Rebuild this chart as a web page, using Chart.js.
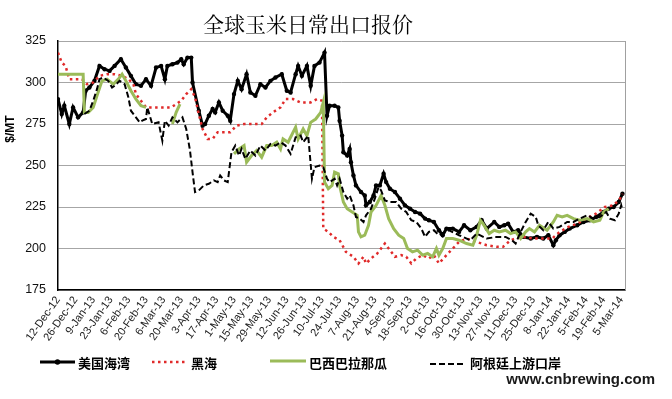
<!DOCTYPE html>
<html>
<head>
<meta charset="utf-8">
<script src="https://cdn.jsdelivr.net/npm/chart.js@4.4.1/dist/chart.umd.min.js"></script>
<style>
  html, body { margin: 0; padding: 0; background: #fff; }
  canvas { display: block; }
</style>
</head>
<body>
<canvas id="chart" width="672" height="399"></canvas>
<script>
// day numbers count from 12-Dec-12 (day 0)
const seriesNames = ['美国海湾', '黑海', '巴西巴拉那瓜', '阿根廷上游口岸'];

const xTickLabels = ['12-Dec-12', '26-Dec-12', '9-Jan-13', '23-Jan-13', '6-Feb-13', '20-Feb-13',
	'6-Mar-13', '20-Mar-13', '3-Apr-13', '17-Apr-13', '1-May-13', '15-May-13', '29-May-13',
	'12-Jun-13', '26-Jun-13', '10-Jul-13', '24-Jul-13', '7-Aug-13', '21-Aug-13', '4-Sep-13',
	'18-Sep-13', '2-Oct-13', '16-Oct-13', '30-Oct-13', '13-Nov-13', '27-Nov-13', '11-Dec-13',
	'25-Dec-13', '8-Jan-14', '22-Jan-14', '5-Feb-14', '19-Feb-14', '5-Mar-14'];

const usDays = [0, 3, 5, 9, 12, 16, 20, 22, 25, 29, 33, 37, 41, 45, 50, 54, 58, 62, 66, 70,
	74, 78, 82, 85, 87, 91, 95, 98, 100, 103, 106, 107, 112, 115, 117, 120, 123, 125, 128, 131,
	135, 137, 140, 143, 146, 150, 153, 157, 161, 165, 169, 173, 178, 182, 185, 189, 191, 194, 198, 201,
	204, 208, 212, 214, 216, 220, 223, 224, 226, 227, 230, 232, 233, 235, 237, 241, 244, 245, 248, 251,
	253, 256, 259, 261, 264, 268, 272, 276, 280, 284, 288, 292, 295, 299, 303, 306, 309, 314, 319, 323,
	328, 333, 337, 341, 347, 351, 355, 358, 362, 366, 370, 376, 381, 386, 390, 394, 396, 399, 403, 407,
	413, 418, 423, 428, 434, 438, 442, 446, 449];
const usPrice = [290, 281, 286, 275, 285, 279, 282, 295, 297, 301, 310, 308, 307, 310, 314, 309, 304, 299, 298, 302,
	298, 309, 310, 302, 310, 311, 312, 314, 311, 315, 315, 300, 283, 274, 275, 280, 284, 282, 288, 283,
	280, 277, 293, 301, 296, 305, 294, 292, 299, 297, 301, 303, 305, 295, 294, 305, 310, 304, 310, 298,
	310, 312, 318, 280, 286, 286, 285, 277, 268, 258, 256, 260, 252, 244, 238, 234, 232, 226, 228, 232,
	238, 238, 245, 240, 236, 234, 230, 226, 224, 222, 221, 218, 217, 216, 211, 208, 212, 212, 210, 214,
	211, 213, 217, 212, 216, 213, 214, 215, 210, 211, 207, 206, 207, 206, 208, 202, 205, 208, 210, 212,
	214, 216, 217, 219, 222, 224, 225, 228, 233];

const bsDays = [0, 3, 6, 9, 15, 19, 23, 28, 33, 39, 45, 51, 56, 60, 62, 66, 70, 75, 83, 90,
	94, 98, 102, 106, 109, 112, 115, 119, 123, 127, 132, 137, 142, 148, 156, 162, 166, 171, 177, 181,
	187, 193, 201, 206, 210, 211, 215, 219, 224, 229, 235, 239, 243, 245, 249, 254, 260, 264, 268, 273,
	277, 281, 285, 290, 295, 299, 303, 309, 314, 319, 325, 333, 341, 349, 354, 360, 364, 370, 378, 386,
	393, 399, 406, 413, 420, 428, 435, 442, 447, 449];
const bsPrice = [318, 312, 310, 302, 302, 302, 299, 300, 304, 305, 305, 304, 302, 299, 293, 289, 285, 285, 285, 285,
	287, 289, 293, 296, 291, 281, 272, 266, 266, 270, 270, 270, 274, 275, 275, 275, 279, 282, 285, 290,
	290, 288, 288, 290, 289, 212, 210, 207, 205, 198, 195, 191, 195, 191, 194, 197, 203, 199, 195, 196,
	195, 191, 194, 196, 194, 196, 191, 196, 200, 204, 206, 204, 202, 201, 201, 205, 206, 207, 206, 206,
	206, 210, 213, 215, 218, 221, 225, 226, 230, 233];

const brDays = [0, 20, 21, 24, 28, 31, 35, 39, 44, 48, 51, 54, 58, 62, 66, 70, 80, 91, 94, 97,
	120, 140, 144, 148, 150, 154, 158, 162, 166, 170, 174, 177, 179, 183, 189, 191, 195, 198, 201, 205,
	209, 211, 212, 215, 218, 220, 223, 224, 227, 230, 234, 238, 239, 241, 244, 247, 249, 253, 257, 260,
	263, 267, 271, 275, 278, 282, 286, 290, 294, 298, 301, 303, 306, 309, 314, 319, 325, 330, 333, 336,
	338, 343, 347, 351, 356, 360, 364, 368, 372, 375, 379, 383, 389, 394, 397, 401, 405, 410, 415, 421,
	426, 431, 434, 438];
const brPrice = [305, 305, 282, 282, 285, 292, 301, 302, 299, 302, 305, 301, 295, 290, 286, 285, null, 275, 282, 287,
	null, 257, 260, 262, 252, 256, 259, 255, 262, 262, 264, 260, 266, 264, 273, 266, 272, 268, 276, 278,
	282, 288, 240, 236, 238, 246, 245, 238, 228, 224, 222, 220, 210, 207, 208, 214, 222, 226, 232, 226,
	218, 212, 208, 206, 200, 198, 199, 196, 197, 195, 200, 196, 200, 206, 206, 205, 203, 202, 208, 217,
	215, 209, 211, 210, 211, 209, 210, 206, 210, 212, 210, 214, 211, 216, 220, 219, 220, 218, 217, 218,
	216, 217, 222, 224];

const arDays = [21, 25, 28, 31, 33, 36, 40, 43, 45, 49, 53, 56, 58, 62, 65, 67, 70, 71, 75, 80,
	83, 85, 88, 91, 95, 99, 102, 105, 107, 109, 112, 116, 120, 124, 127, 129, 132, 135, 136, 138,
	141, 144, 146, 149, 153, 157, 161, 165, 169, 173, 177, 181, 185, 189, 193, 195, 199, 202, 204, 208,
	211, 214, 216, 220, 222, 224, 227, 230, 232, 235, 237, 240, 243, 245, 249, 252, 255, 257, 260, 264,
	269, 273, 277, 281, 285, 289, 292, 295, 299, 303, 311, 319, 328, 333, 341, 349, 356, 361, 364, 368,
	372, 376, 380, 382, 386, 390, 394, 399, 405, 410, 415, 421, 426, 431, 436, 439, 443, 446, 448, 449];
const arPrice = [281, 283, 289, 296, 302, 303, 301, 297, 298, 301, 299, 291, 283, 279, 276, 277, 278, 285, 275, 276,
	265, 277, 274, 279, 276, 279, 272, 259, 246, 234, 235, 238, 239, 241, 240, 244, 241, 240, 246, 258,
	262, 256, 260, 254, 259, 256, 262, 259, 263, 262, 264, 262, 257, 267, 268, 264, 268, 242, 249, 250,
	249, 242, 240, 242, 238, 242, 234, 230, 232, 226, 219, 218, 216, 220, 224, 230, 237, 235, 229, 228,
	228, 224, 222, 217, 216, 212, 207, 210, 211, 208, 211, 208, 205, 209, 206, 207, 207, 205, 203, 210,
	216, 221, 219, 214, 211, 216, 212, 213, 216, 216, 218, 220, 218, 219, 222, 218, 217, 221, 226, 223];

const yMin = 175;
const yMax = 325;
const yStep = 25;
const xStep = 14;

function toPoints(days, values) {
	return days.map((d, i) => ({ x: d, y: values[i] }));
}

const SERIF = '"Noto Serif CJK SC", "Noto Sans CJK SC", serif';
const CJK = '"Noto Sans CJK SC", sans-serif';
const LATIN = '"Liberation Sans", Arial, sans-serif';

const extras = {
	id: 'extras',
	beforeDraw(chart) {
		const ctx = chart.ctx;
		ctx.save();
		ctx.fillStyle = '#fff';
		ctx.fillRect(0, 0, chart.width, chart.height);
		ctx.restore();
	},
	afterDraw(chart) {
		const ctx = chart.ctx;
		const a = chart.chartArea;
		const ds = chart.data.datasets;
		ctx.save();

		// grey frame on the right
		ctx.strokeStyle = '#a0a0a0';
		ctx.lineWidth = 1;
		ctx.beginPath();
		ctx.moveTo(a.right + 0.5, a.top);
		ctx.lineTo(a.right + 0.5, a.bottom);
		ctx.stroke();

		// title
		ctx.fillStyle = '#000';
		ctx.font = '21px ' + SERIF;
		ctx.textAlign = 'center';
		ctx.textBaseline = 'middle';
		ctx.fillText('全球玉米日常出口报价', 308, 24);

		// y axis title
		ctx.save();
		ctx.translate(11, 129);
		ctx.rotate(-Math.PI / 2);
		ctx.font = 'bold 12px ' + LATIN;
		ctx.fillText('$/MT', 0, 0);
		ctx.restore();

		// legend
		const items = [
			{ x0: 40, x1: 75, y: 362, tx: 78 },
			{ x0: 152, x1: 185, y: 362, tx: 191 },
			{ x0: 270, x1: 306, y: 361, tx: 309 },
			{ x0: 430, x1: 464, y: 364, tx: 470 }
		];
		items.forEach((it, i) => {
			const d = ds[i];
			ctx.save();
			ctx.strokeStyle = d.borderColor;
			ctx.lineWidth = d.borderWidth;
			ctx.setLineDash(d.borderDash || []);
			ctx.beginPath();
			ctx.moveTo(it.x0, it.y);
			ctx.lineTo(it.x1, it.y);
			ctx.stroke();
			if (d.pointRadius) {
				ctx.fillStyle = d.borderColor;
				ctx.beginPath();
				ctx.arc((it.x0 + it.x1) / 2, it.y, d.pointRadius + 0.5, 0, Math.PI * 2);
				ctx.fill();
			}
			ctx.restore();
			ctx.fillStyle = '#000';
			ctx.font = 'bold 13px ' + CJK;
			ctx.textAlign = 'left';
			ctx.textBaseline = 'middle';
			ctx.fillText(seriesNames[i], it.tx, 363);
		});

		// watermark
		ctx.font = 'bold 15px ' + LATIN;
		ctx.fillStyle = '#1a1a1a';
		ctx.textAlign = 'right';
		ctx.textBaseline = 'alphabetic';
		ctx.fillText('www.cnbrewing.com', 655, 384);

		ctx.restore();
	}
};

new Chart(document.getElementById('chart'), {
	type: 'line',
	data: {
		datasets: [{
			label: seriesNames[0],
			data: toPoints(usDays, usPrice),
			borderColor: '#000',
			backgroundColor: '#000',
			borderWidth: 3,
			pointRadius: 2.2,
			pointBackgroundColor: '#000',
			pointBorderWidth: 0,
			order: 4
		}, {
			label: seriesNames[1],
			data: toPoints(bsDays, bsPrice),
			borderColor: '#e02a2a',
			borderWidth: 2.5,
			borderDash: [2.5, 3.5],
			pointRadius: 0,
			order: 3
		}, {
			label: seriesNames[2],
			data: toPoints(brDays, brPrice),
			borderColor: '#9bbb59',
			borderWidth: 3,
			pointRadius: 0,
			spanGaps: false,
			order: 2
		}, {
			label: seriesNames[3],
			data: toPoints(arDays, arPrice),
			borderColor: '#000',
			borderWidth: 2,
			borderDash: [6, 3],
			pointRadius: 0,
			order: 1
		}]
	},
	options: {
		responsive: false,
		animation: false,
		layout: {
			padding: { top: 41, right: 47, bottom: 49, left: 0 }
		},
		plugins: {
			legend: { display: false },
			title: { display: false },
			tooltip: { enabled: false }
		},
		scales: {
			x: {
				type: 'linear',
				min: 0,
				max: 451,
				grid: { display: false, drawTicks: false },
				border: { color: '#000', width: 1.5 },
				ticks: {
					stepSize: xStep,
					autoSkip: false,
					includeBounds: false,
					minRotation: 55,
					maxRotation: 55,
					padding: 4,
					color: '#222',
					font: { family: LATIN, size: 11 },
					callback: (v) => xTickLabels[v / xStep] || ''
				},
				afterFit: (scale) => { scale.height = 60; }
			},
			y: {
				min: yMin,
				max: yMax,
				grid: { color: '#a6a6a6', drawTicks: false },
				border: { color: '#000', width: 1.5 },
				ticks: {
					stepSize: yStep,
					padding: 12,
					color: '#111',
					font: { family: LATIN, size: 12.5 }
				},
				afterFit: (scale) => { scale.width = 58; }
			}
		}
	},
	plugins: [extras]
});
</script>
</body>
</html>
